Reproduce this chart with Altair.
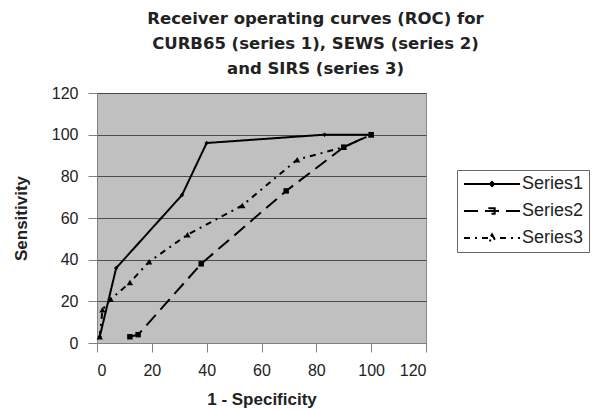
import altair as alt
import pandas as pd

# ROC points (1 - specificity, sensitivity) for each scoring system
series_names = ["Series1", "Series2", "Series3"]
s1_x = [1, 7, 31, 40, 83, 100]
s1_y = [3, 36, 71, 96, 100, 100]
s2_x = [12, 15, 38, 69, 90, 100]
s2_y = [3, 4, 38, 73, 94, 100]
s3_x = [1, 2, 5, 12, 19, 33, 53, 73, 90, 100]
s3_y = [3, 16, 21, 29, 39, 52, 66, 88, 94, 100]

rows = []
for name, xs, ys in zip(series_names, [s1_x, s2_x, s3_x], [s1_y, s2_y, s3_y]):
    for i, (a, b) in enumerate(zip(xs, ys)):
        rows.append({"series": name, "marker": name, "order": i,
                     "fpr": a, "tpr": b})
df = pd.DataFrame(rows)

axis_ticks = [0, 20, 40, 60, 80, 100, 120]
FONT = "Liberation Sans"
dash_styles = [[1, 0], [14, 7], [6, 5, 2, 5]]

# legend swatches: a long line segment with the series marker in its middle
# (symbol units are half of sqrt(symbolSize) pixels)
swatch_paths = [
    "M-4.67,0H4.67M0,-0.35L0.35,0L0,0.35L-0.35,0Z",
    "M-4.67,0H4.67M-0.45,-0.45H0.45V0.45H-0.45Z",
    "M-4.67,0H4.67M0,-0.6L0.55,0.4H-0.55Z",
]

legend_style = dict(
    title=None, orient="none", legendX=360, legendY=77,
    symbolSize=144, symbolStrokeWidth=2, symbolOpacity=1,
    symbolStrokeColor="black", symbolFillColor="black",
    symbolOffset=21, labelOffset=21,
    labelFontSize=18, labelFont=FONT,
    labelColor="#222222", strokeColor="#666666", padding=5,
    rowPadding=9, labelLimit=200,
)

x_enc = alt.X(
    "fpr:Q",
    scale=alt.Scale(domain=[0, 120], nice=False, zero=True),
    axis=alt.Axis(values=axis_ticks, grid=False, title="1 - Specificity",
                  titlePadding=13),
)
y_enc = alt.Y(
    "tpr:Q",
    scale=alt.Scale(domain=[0, 120], nice=False),
    axis=alt.Axis(values=axis_ticks, grid=True, title="Sensitivity",
                  titlePadding=21),
)

lines = alt.Chart(df).mark_line(color="black", strokeWidth=2).encode(
    x=x_enc,
    y=y_enc,
    order="order:Q",
    strokeDash=alt.StrokeDash(
        "series:N",
        scale=alt.Scale(domain=series_names, range=dash_styles),
        legend=None,
    ),
)

points = alt.Chart(df).mark_point(filled=True, color="black", opacity=1).encode(
    x="fpr:Q",
    y="tpr:Q",
    shape=alt.Shape(
        "marker:N",
        scale=alt.Scale(domain=series_names,
                        range=["diamond", "square", "triangle-up"]),
        legend=None,
    ),
    size=alt.Size(
        "marker:N",
        scale=alt.Scale(domain=series_names, range=[20, 40, 45]),
        legend=None,
    ),
)

# transparent layer that only carries the legend
key = alt.Chart(df).mark_point(
    filled=False, color="black", strokeWidth=2, opacity=0, size=144
).encode(
    x="fpr:Q",
    y="tpr:Q",
    shape=alt.Shape(
        "series:N",
        scale=alt.Scale(domain=series_names, range=swatch_paths),
        legend=alt.Legend(**legend_style),
    ),
    strokeDash=alt.StrokeDash(
        "series:N",
        scale=alt.Scale(domain=series_names, range=dash_styles),
        legend=alt.Legend(**legend_style),
    ),
)

chart = (
    alt.layer(lines, points, key)
    .resolve_scale(shape="independent", strokeDash="independent",
                   size="independent")
    .resolve_legend(shape="independent", strokeDash="independent",
                    size="independent")
    .properties(
        width=329,
        height=250,
        background="white",
        autosize=alt.AutoSizeParams(type="none"),
        padding={"left": 97, "top": 93, "right": 171, "bottom": 67},
        title=alt.TitleParams(
            text=["Receiver operating curves (ROC) for",
                  "CURB65 (series 1), SEWS (series 2)",
                  "and SIRS (series 3)"],
            font="DejaVu Sans", fontSize=16.5, fontWeight="bold",
            color="#222222", lineHeight=25, anchor="middle", dx=54,
            offset=8,
        ),
    )
    .configure_view(fill="#c0c0c0", stroke="#8a8a8a", strokeWidth=1)
    .configure_axis(
        labelFont=FONT, labelFontSize=16, labelColor="#222222",
        titleFont=FONT, titleFontSize=17, titleFontWeight="bold",
        titleColor="#222222", domainColor="#808080", tickColor="#808080",
        tickSize=9, labelPadding=10, gridColor="#404040", gridWidth=1,
        gridOpacity=0.9,
    )
)

chart.save("out.html", embed_options={"renderer": "svg", "actions": False})
